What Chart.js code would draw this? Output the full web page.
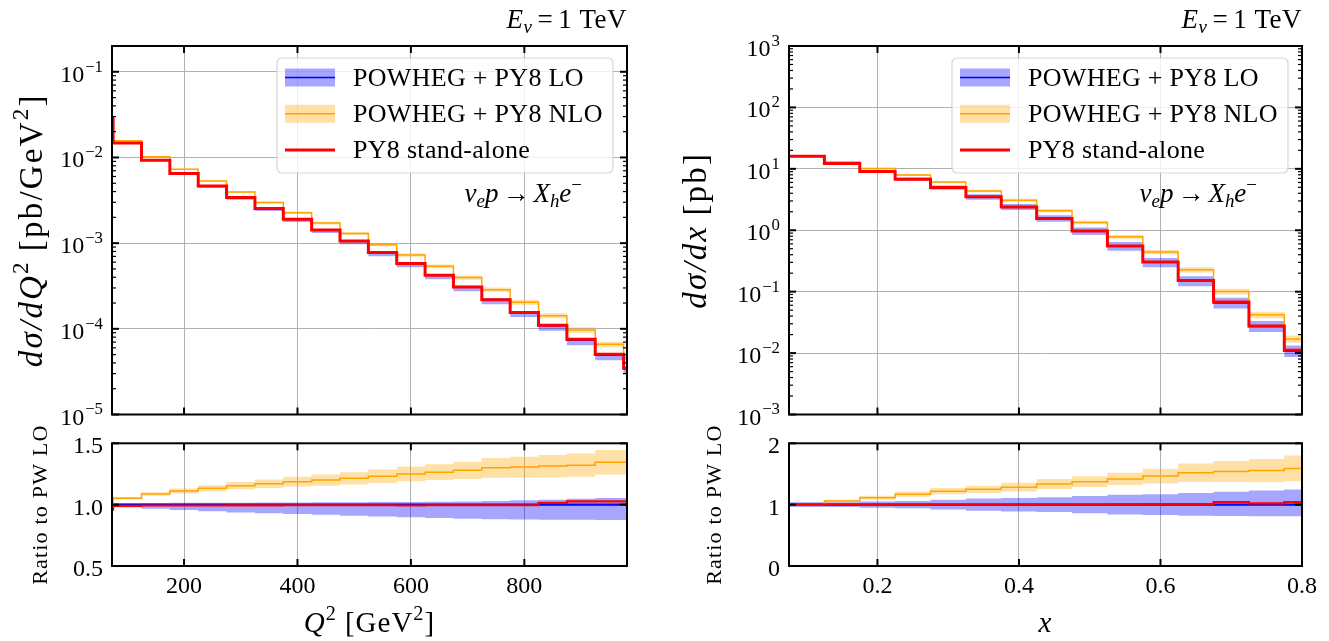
<html><head>
<meta charset="utf-8">
<title>Neutrino DIS distributions</title>
<script src="https://cdn.jsdelivr.net/npm/chart.js"></script>
<style>
body { margin: 0; background: #fff; }
canvas { position: absolute; }
</style>
</head>
<body>
<canvas id="q2Main" width="660" height="430" style="left:0px;top:0px"></canvas>
<canvas id="q2Ratio" width="660" height="241" style="left:0px;top:400px"></canvas>
<canvas id="xMain" width="669" height="430" style="left:660px;top:0px"></canvas>
<canvas id="xRatio" width="669" height="241" style="left:660px;top:400px"></canvas>
<script>
var legendLabels = ['POWHEG + PY8 LO', 'POWHEG + PY8 NLO', 'PY8 stand-alone'];

// Q^2 histogram [GeV^2], LO in pb/GeV^2, the rest as ratios to LO
var q2Edges = [73, 75, 125, 175, 225, 275, 325, 375, 425, 475, 525, 575, 625, 675, 725, 775, 825, 875, 925, 975, 981];
var q2Lo = [0.029, 0.0149, 0.00935, 0.00655, 0.00469, 0.00343, 0.00255, 0.00191, 0.00143, 0.001065, 0.00078, 0.000582, 0.000424, 0.00031, 0.00022, 0.000156, 0.0001085, 0.0000735, 0.000049, 0.000034];
var q2LoUp = [1.012, 1.012, 1.014, 1.015, 1.016, 1.016, 1.017, 1.018, 1.019, 1.02, 1.021, 1.022, 1.024, 1.026, 1.03, 1.035, 1.04, 1.048, 1.055, 1.055];
var q2LoDown = [0.978, 0.978, 0.967, 0.957, 0.947, 0.937, 0.93, 0.924, 0.917, 0.91, 0.904, 0.898, 0.892, 0.886, 0.882, 0.879, 0.877, 0.876, 0.875, 0.875];
var q2NloRatio = [0.96, 1.052, 1.087, 1.111, 1.133, 1.155, 1.17, 1.187, 1.2, 1.215, 1.232, 1.25, 1.265, 1.28, 1.3, 1.306, 1.314, 1.322, 1.345, 1.345];
var q2NloErr = [0.01, 0.01, 0.015, 0.02, 0.025, 0.03, 0.035, 0.04, 0.045, 0.05, 0.055, 0.06, 0.065, 0.07, 0.08, 0.085, 0.09, 0.095, 0.1, 0.1];
var q2Py8Ratio = [0.96, 0.99, 0.993, 0.993, 0.993, 0.994, 0.994, 0.995, 0.995, 0.995, 0.995, 0.993, 0.995, 0.995, 0.995, 0.995, 1.014, 1.027, 1.027, 1.027];

// Bjorken x histogram, LO in pb
var xEdges = [0.075, 0.125, 0.175, 0.225, 0.275, 0.325, 0.375, 0.425, 0.475, 0.525, 0.575, 0.625, 0.675, 0.725, 0.775, 0.8];
var xLo = [16.1, 12.2, 9.08, 6.79, 4.98, 3.5, 2.4, 1.56, 0.975, 0.553, 0.302, 0.15, 0.0655, 0.0271, 0.0107];
var xLoUp = [1.04, 1.04, 1.05, 1.06, 1.08, 1.1, 1.11, 1.12, 1.14, 1.16, 1.17, 1.19, 1.21, 1.23, 1.245];
var xLoDown = [0.96, 0.96, 0.95, 0.94, 0.92, 0.9, 0.89, 0.88, 0.86, 0.84, 0.83, 0.82, 0.815, 0.81, 0.81];
var xNloRatio = [1.0, 1.06, 1.114, 1.169, 1.22, 1.25, 1.285, 1.337, 1.375, 1.42, 1.465, 1.52, 1.54, 1.555, 1.59];
var xNloErr = [0, 0.02, 0.03, 0.04, 0.05, 0.06, 0.07, 0.08, 0.087, 0.1, 0.12, 0.15, 0.17, 0.19, 0.21];
var xPy8Ratio = [1, 1, 1, 1, 1, 1, 1, 1, 1, 1.005, 1.01, 1.01, 1.04, 1.02, 1.04];

// ticks
var q2Ticks = [200, 400, 600, 800];
var xTicks = [0.2, 0.4, 0.6, 0.8];
var xTickLabels = ['0.2', '0.4', '0.6', '0.8'];
var q2Decades = [1e-5, 1e-4, 1e-3, 1e-2, 1e-1];
var xDecades = [1e-3, 1e-2, 1e-1, 1e0, 1e1, 1e2, 1e3];
var q2RatioTicks = [0.5, 1.0, 1.5];
var q2RatioLabels = ['0.5', '1.0', '1.5'];
var xRatioTicks = [0, 1, 2];
var xRatioLabels = ['0', '1', '2'];

var BLUE = '#0000ff', ORANGE = '#ffa500', RED = '#ff0000';
var BLUE_BAND = 'rgba(0, 0, 255, 0.35)', ORANGE_BAND = 'rgba(255, 165, 0, 0.35)';
var FONT = '"Liberation Serif", "DejaVu Serif", serif';

function steps(edges, values) {
    var pts = [];
    for (var i = 0; i < values.length; i++) {
        pts.push({x: edges[i], y: values[i]});
        pts.push({x: edges[i + 1], y: values[i]});
    }
    return pts;
}
function times(a, b) {
    return a.map(function (v, i) { return v * b[i]; });
}
function shift(a, b, sign) {
    return a.map(function (v, i) { return v + sign * b[i]; });
}
function line(edges, values, color, width, order, label) {
    return {label: label, data: steps(edges, values), borderColor: color, borderWidth: width,
        fill: false, order: order, pointRadius: 0, borderJoinStyle: 'miter'};
}
// upper edge first, lower edge fills back to it
function band(edges, lower, upper, color, order) {
    return [
        {data: steps(edges, upper), borderWidth: 0, fill: false, order: order, pointRadius: 0},
        {data: steps(edges, lower), borderWidth: 0, fill: '-1', backgroundColor: color, order: order, pointRadius: 0}
    ];
}

function mainSets(edges, lo, loUp, loDown, nlo, nloErr, py8) {
    var nloUp = shift(nlo, nloErr, 1), nloDown = shift(nlo, nloErr, -1);
    return band(edges, times(lo, loDown), times(lo, loUp), BLUE_BAND, 5)
        .concat([line(edges, lo, BLUE, 1.5, 4, legendLabels[0])])
        .concat(band(edges, times(lo, nloDown), times(lo, nloUp), ORANGE_BAND, 3))
        .concat([line(edges, times(lo, nlo), ORANGE, 1.5, 2, legendLabels[1]),
                 line(edges, times(lo, py8), RED, 3, 1, legendLabels[2])]);
}
function ratioSets(edges, lo, loUp, loDown, nlo, nloErr, py8) {
    var one = lo.map(function (v) { return v / v; });
    return band(edges, loDown, loUp, BLUE_BAND, 5)
        .concat([line(edges, one, BLUE, 2.2, 4, legendLabels[0])])
        .concat(band(edges, shift(nlo, nloErr, -1), shift(nlo, nloErr, 1), ORANGE_BAND, 3))
        .concat([line(edges, nlo, ORANGE, 1.5, 2, legendLabels[1]),
                 line(edges, py8, RED, 2.2, 1, legendLabels[2])]);
}

// runs: {t, it, sup, sub, gap}; ls spreads the letters a little
function drawRuns(ctx, runs, x, y, align, size, ls) {
    var widths = [], total = 0;
    ls = ls || 0;
    function font(r) {
        var s = (r.sup || r.sub) ? size * 0.7 : size;
        return (r.it ? 'italic ' : '') + s + 'px ' + FONT;
    }
    ctx.letterSpacing = '0px';
    runs.forEach(function (r) {
        ctx.font = font(r);
        var w = ctx.measureText(r.t).width + ls * r.t.length + (r.gap || 0);
        widths.push(w);
        total += w;
    });
    var cx = align === 'right' ? x - total : align === 'center' ? x - total / 2 : x;
    ctx.textAlign = 'left';
    ctx.textBaseline = 'alphabetic';
    ctx.fillStyle = '#000';
    ctx.letterSpacing = ls + 'px';
    runs.forEach(function (r, i) {
        ctx.font = font(r);
        var dy = r.sup ? -0.42 * size : r.sub ? 0.2 * size : 0;
        ctx.fillText(r.t, cx, y + dy);
        cx += widths[i];
    });
    ctx.letterSpacing = '0px';
}
function power(v) {
    var e = Math.round(Math.log10(v));
    return [{t: '10', gap: 1}, {t: (e < 0 ? '\u2212' : '') + Math.abs(e), sup: true}];
}
function minorTicks(decades, min, max) {
    var out = [];
    decades.concat([decades[decades.length - 1] * 10]).forEach(function (d) {
        for (var k = 2; k < 10; k++) {
            var v = d * k / 10;
            if (v > min && v < max) out.push(v);
        }
    });
    return out;
}

var energyTitle = [{t: 'E', it: true}, {t: '\u03bd', it: true, sub: true, gap: 5}, {t: '=', gap: 5}, {t: '1 TeV'}];
var process = [{t: '\u03bd', it: true}, {t: 'e', it: true, sub: true}, {t: 'p', it: true, gap: 4}, {t: '\u2192', gap: 4},
    {t: 'X', it: true}, {t: 'h', it: true, sub: true}, {t: 'e', it: true}, {t: '\u2212', sup: true}];

var specs = {
    q2Main: {
        xMajor: q2Ticks, yMajor: q2Decades, yLabels: q2Decades.map(power),
        yMinor: minorTicks(q2Decades, 1e-5, 0.2),
        yTitle: [{t: 'd\u03c3/dQ', it: true}, {t: '2', sup: true, gap: 9}, {t: '[pb/GeV'}, {t: '2', sup: true}, {t: ']'}],
        yTitleX: 42, yTitleSize: 33, yTitleLs: 2.2,
        title: energyTitle, legend: true, note: process
    },
    q2Ratio: {
        xMajor: q2Ticks, xLabels: q2Ticks.map(String), yMajor: q2RatioTicks, yLabels: q2RatioLabels.map(function (s) { return [{t: s}]; }),
        yTitle: [{t: 'Ratio to PW LO'}], yTitleX: 47, yTitleSize: 22, yTitleLs: 1.2,
        xTitle: [{t: 'Q', it: true}, {t: '2', sup: true, gap: 8}, {t: '[GeV'}, {t: '2', sup: true}, {t: ']'}]
    },
    xMain: {
        xMajor: xTicks, yMajor: xDecades, yLabels: xDecades.map(power),
        yMinor: minorTicks(xDecades, 1e-3, 1e3),
        yTitle: [{t: 'd\u03c3/dx', it: true, gap: 9}, {t: '[pb]'}],
        yTitleX: 46, yTitleSize: 33, yTitleLs: 2.2,
        title: energyTitle, legend: true, note: process
    },
    xRatio: {
        xMajor: xTicks, xLabels: xTickLabels, yMajor: xRatioTicks, yLabels: xRatioLabels.map(function (s) { return [{t: s}]; }),
        yTitle: [{t: 'Ratio to PW LO'}], yTitleX: 61, yTitleSize: 22, yTitleLs: 1.2,
        xTitle: [{t: 'x', it: true}]
    }
};

function drawLegend(ctx, a) {
    var w = 336, h = 115, x = a.right - 14 - w, y = a.top + 12, r = 5;
    ctx.beginPath();
    ctx.roundRect(x, y, w, h, r);
    ctx.fillStyle = 'rgba(255, 255, 255, 0.8)';
    ctx.fill();
    ctx.strokeStyle = 'rgba(204, 204, 204, 0.8)';
    ctx.lineWidth = 1.2;
    ctx.stroke();
    var rows = [[BLUE, BLUE_BAND, 1.5], [ORANGE, ORANGE_BAND, 1.5], [RED, null, 3]];
    rows.forEach(function (row, i) {
        var cy = y + 19.5 + i * 36.3;
        if (row[1]) {
            ctx.fillStyle = row[1];
            ctx.fillRect(x + 8, cy - 9, 50, 18);
        }
        ctx.strokeStyle = row[0];
        ctx.lineWidth = row[2];
        ctx.beginPath();
        ctx.moveTo(x + 8, cy);
        ctx.lineTo(x + 58, cy);
        ctx.stroke();
        drawRuns(ctx, [{t: legendLabels[i]}], x + 76, cy + 8, 'left', 26, 0.3);
    });
}

var decor = {
    id: 'decor',
    afterDraw: function (chart) {
        var s = specs[chart.canvas.id];
        var ctx = chart.ctx, a = chart.chartArea, xs = chart.scales.x, ys = chart.scales.y;
        ctx.save();
        function seg(x1, y1, x2, y2, w) {
            ctx.lineWidth = w;
            ctx.beginPath();
            ctx.moveTo(x1, y1);
            ctx.lineTo(x2, y2);
            ctx.stroke();
        }
        if (s.legend) drawLegend(ctx, a);
        ctx.strokeStyle = '#000';
        ctx.lineWidth = 2;
        ctx.strokeRect(a.left, a.top, a.right - a.left, a.bottom - a.top);
        s.xMajor.forEach(function (v, i) {
            var px = xs.getPixelForValue(v);
            seg(px, a.bottom, px, a.bottom - 7, 2);
            seg(px, a.top, px, a.top + 7, 2);
            if (s.xLabels) drawRuns(ctx, [{t: s.xLabels[i]}], px, a.bottom + 27, 'center', 24);
        });
        s.yMajor.forEach(function (v, i) {
            var py = ys.getPixelForValue(v);
            seg(a.left, py, a.left + 7, py, 2);
            seg(a.right, py, a.right - 7, py, 2);
            drawRuns(ctx, s.yLabels[i], a.left - 9, py + 10, 'right', 24);
        });
        (s.yMinor || []).forEach(function (v) {
            var py = ys.getPixelForValue(v);
            seg(a.left, py, a.left + 4, py, 1.2);
            seg(a.right, py, a.right - 4, py, 1.2);
        });
        ctx.save();
        ctx.translate(s.yTitleX, (a.top + a.bottom) / 2);
        ctx.rotate(-Math.PI / 2);
        drawRuns(ctx, s.yTitle, 0, 0, 'center', s.yTitleSize, s.yTitleLs);
        ctx.restore();
        if (s.xTitle) drawRuns(ctx, s.xTitle, (a.left + a.right) / 2, a.bottom + 66, 'center', 29, 1);
        if (s.title) drawRuns(ctx, s.title, a.right, 28, 'right', 27, 0.5);
        if (s.note) drawRuns(ctx, s.note, a.right - 45, 202, 'right', 27);
        ctx.restore();
    }
};

function makeChart(id, datasets, xMin, xMax, xMajor, yType, yMin, yMax, yMajor, padding) {
    var horizontalGrid = yType === 'logarithmic';
    return new Chart(document.getElementById(id), {
        type: 'line',
        data: {datasets: datasets},
        options: {
            responsive: false,
            animation: false,
            events: [],
            layout: {padding: padding},
            elements: {line: {tension: 0}, point: {radius: 0}},
            plugins: {legend: {display: false}, tooltip: {enabled: false}},
            scales: {
                x: {
                    type: 'linear', min: xMin, max: xMax, bounds: 'data',
                    grid: {color: '#b0b0b0', lineWidth: 1, drawTicks: false},
                    border: {display: false}, ticks: {display: false},
                    afterBuildTicks: function (sc) { sc.ticks = xMajor.map(function (v) { return {value: v}; }); },
                    afterFit: function (sc) { sc.height = 0; }
                },
                y: {
                    type: yType, min: yMin, max: yMax, bounds: 'data',
                    grid: {display: horizontalGrid, color: '#b0b0b0', lineWidth: 1, drawTicks: false},
                    border: {display: false}, ticks: {display: false},
                    afterBuildTicks: function (sc) { sc.ticks = yMajor.map(function (v) { return {value: v}; }); },
                    afterFit: function (sc) { sc.width = 0; }
                }
            }
        },
        plugins: [decor]
    });
}

makeChart('q2Main', mainSets(q2Edges, q2Lo, q2LoUp, q2LoDown, q2NloRatio, q2NloErr, q2Py8Ratio),
    73, 981, q2Ticks, 'logarithmic', 1e-5, 0.2, q2Decades, {left: 112, top: 46, right: 33, bottom: 15.5});
makeChart('q2Ratio', ratioSets(q2Edges, q2Lo, q2LoUp, q2LoDown, q2NloRatio, q2NloErr, q2Py8Ratio),
    73, 981, q2Ticks, 'linear', 0.5, 1.5, q2RatioTicks, {left: 112, top: 43.3, right: 33, bottom: 75});
makeChart('xMain', mainSets(xEdges, xLo, xLoUp, xLoDown, xNloRatio, xNloErr, xPy8Ratio),
    0.075, 0.8, xTicks, 'logarithmic', 1e-3, 1e3, xDecades, {left: 129, top: 46, right: 27, bottom: 15.5});
makeChart('xRatio', ratioSets(xEdges, xLo, xLoUp, xLoDown, xNloRatio, xNloErr, xPy8Ratio),
    0.075, 0.8, xTicks, 'linear', 0, 2, xRatioTicks, {left: 129, top: 43.3, right: 27, bottom: 75});
</script>
</body></html>
